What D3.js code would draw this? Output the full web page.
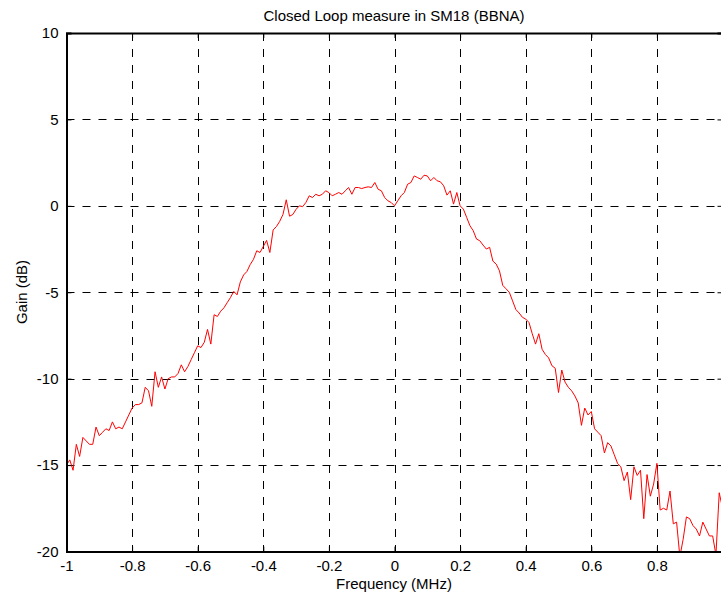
<!DOCTYPE html>
<html>
<head>
<meta charset="utf-8">
<script src="https://cdn.jsdelivr.net/npm/d3@7"></script>
<style>
    body { margin: 0; background: #fff; }
    text { font-family: "Liberation Sans", Arial, Helvetica, sans-serif; }
</style>
</head>
<body>
<div id="chart"></div>
<script>
// Measured gain (dB), one value every 0.01 MHz from -1 to 1
const gain = [
    -15.0, -14.7, -15.3, -13.8, -14.5, -13.4, -13.6, -13.8, -13.8, -12.8,
    -13.3, -13.1, -12.9, -13.0, -12.5, -12.9, -12.8, -12.9, -12.5, -12.1,
    -11.7, -11.5, -11.5, -11.4, -10.5, -10.7, -11.6, -9.6, -10.5, -9.9,
    -10.6, -10.0, -9.9, -9.9, -9.7, -9.2, -9.6, -9.3, -8.9, -8.5,
    -8.1, -8.2, -7.9, -7.15, -8.0, -6.3, -6.4, -6.1, -5.9, -5.6,
    -5.3, -4.95, -5.15, -4.4, -4.0, -3.8, -3.4, -3.1, -2.6, -2.7,
    -2.35, -2.0, -2.7, -1.4, -1.2, -0.9, -0.5, 0.35, -0.6, -0.5,
    -0.2, 0.0, -0.05, 0.2, 0.58, 0.48, 0.67, 0.58, 0.67, 0.87,
    0.77, 0.58, 0.67, 0.77, 0.67, 0.87, 1.06, 0.67, 1.06, 1.06,
    1.0, 1.06, 1.1, 1.06, 1.35, 0.96, 0.87, 0.48, 0.29, 0.19,
    0.0, 0.29, 0.58, 0.77, 1.25, 1.35, 1.73, 1.64, 1.54, 1.77,
    1.73, 1.45, 1.64, 1.45, 1.39, 1.16, 0.62, 0.87, 0.1, 0.77,
    0.0, -0.19, -0.67, -1.15, -1.44, -1.92, -2.02, -2.27, -2.5, -2.4,
    -3.2, -3.37, -3.76, -4.6, -4.8, -5.0, -5.5, -6.0, -6.2, -6.45,
    -6.55, -6.75, -7.4, -8.0, -7.4, -8.3, -8.6, -8.8, -9.25, -9.4,
    -10.8, -9.5, -10.2, -10.5, -10.7, -11.0, -11.4, -12.7, -11.7, -12.1,
    -11.9, -12.9, -13.1, -13.3, -14.3, -13.7, -13.9, -14.4, -14.9, -15.1,
    -15.9, -15.4, -17.0, -15.1, -15.6, -15.3, -18.1, -15.55, -16.8, -16.1,
    -14.9, -17.6, -17.5, -17.6, -16.5, -18.4, -18.3, -20.3, -19.3, -18.0,
    -18.1, -18.5, -18.7, -19.1, -18.3, -18.7, -19.1, -19.1, -20.2, -16.6,
    -17.5
];
const freqStart = -1;
const freqStep = 0.01;

const xTicks = [-1, -0.8, -0.6, -0.4, -0.2, 0, 0.2, 0.4, 0.6, 0.8, 1];
const yTicks = [-20, -15, -10, -5, 0, 5, 10];

const data = gain.map((g, i) => ({ f: freqStart + i * freqStep, g: g }));

const width = 721;
const height = 594;
const margin = { top: 33, right: -1.5, bottom: 42.5, left: 66.5 };
const innerWidth = width - margin.left - margin.right;
const innerHeight = height - margin.top - margin.bottom;

const svg = d3.select('#chart')
    .append('svg')
    .attr('width', width)
    .attr('height', height);

const xScale = d3.scaleLinear()
    .domain([-1, 1])
    .range([margin.left, margin.left + innerWidth]);

const yScale = d3.scaleLinear()
    .domain([-20, 10])
    .range([margin.top + innerHeight, margin.top]);

// clip for the curve
svg.append('clipPath')
    .attr('id', 'plot-clip')
    .append('rect')
    .attr('x', margin.left)
    .attr('y', margin.top)
    .attr('width', innerWidth)
    .attr('height', innerHeight);

// dashed grid
const grid = svg.append('g').attr('class', 'grid');
grid.selectAll('line.vgrid')
    .data(xTicks)
    .enter()
    .append('line')
    .attr('x1', d => Math.round(xScale(d)) + 0.5)
    .attr('x2', d => Math.round(xScale(d)) + 0.5)
    .attr('y1', margin.top)
    .attr('y2', margin.top + innerHeight)
    .attr('stroke', '#000')
    .attr('stroke-width', 1)
    .attr('stroke-dasharray', '8,8');

grid.selectAll('line.hgrid')
    .data(yTicks)
    .enter()
    .append('line')
    .attr('x1', margin.left)
    .attr('x2', margin.left + innerWidth)
    .attr('y1', d => Math.round(yScale(d)) + 0.5)
    .attr('y2', d => Math.round(yScale(d)) + 0.5)
    .attr('stroke', '#000')
    .attr('stroke-width', 1)
    .attr('stroke-dasharray', '8,8');

// measured curve
const line = d3.line()
    .x(d => xScale(d.f))
    .y(d => yScale(d.g));

svg.append('path')
    .datum(data)
    .attr('clip-path', 'url(#plot-clip)')
    .attr('fill', 'none')
    .attr('stroke', '#ff0000')
    .attr('stroke-width', 1)
    .attr('d', line);

// axes with inward ticks; the label at x = 1 falls outside the window
const xFmt = d => (d === 1 ? '' : String(d));
const yFmt = d => String(d);

const xAxis = svg.append('g')
    .attr('transform', `translate(0, ${margin.top + innerHeight})`)
    .call(d3.axisBottom(xScale).tickValues(xTicks).tickFormat(xFmt).tickSize(-5).tickPadding(9));

const xTop = svg.append('g')
    .attr('transform', `translate(0, ${margin.top})`)
    .call(d3.axisTop(xScale).tickValues(xTicks).tickSize(-5));

const yAxis = svg.append('g')
    .attr('transform', `translate(${margin.left}, 0)`)
    .call(d3.axisLeft(yScale).tickValues(yTicks).tickFormat(yFmt).tickSize(-5).tickPadding(8));

const yRight = svg.append('g')
    .attr('transform', `translate(${margin.left + innerWidth}, 0)`)
    .call(d3.axisRight(yScale).tickValues(yTicks).tickSize(-5));

// top and right axes carry ticks only
xTop.selectAll('.tick text').remove();
yRight.selectAll('.tick text').remove();
xAxis.selectAll('.tick text').filter(d => d === 1).remove();

[xAxis, xTop, yAxis, yRight].forEach(a => {
    a.select('.domain').attr('stroke', '#000').attr('stroke-width', 2);
    a.selectAll('.tick line').attr('stroke', '#000');
    a.selectAll('.tick text')
        .attr('fill', '#000')
        .style('font-size', '15px');
});

// title and axis labels
svg.append('text')
    .attr('x', 394)
    .attr('y', 21)
    .style('text-anchor', 'middle')
    .style('font-size', '15px')
    .text('Closed Loop measure in SM18 (BBNA)');

svg.append('text')
    .attr('x', 394)
    .attr('y', 589)
    .style('text-anchor', 'middle')
    .style('font-size', '15px')
    .text('Frequency (MHz)');

svg.append('text')
    .attr('transform', 'rotate(-90)')
    .attr('x', -292)
    .attr('y', 27)
    .style('text-anchor', 'middle')
    .style('font-size', '15px')
    .text('Gain (dB)');
</script>
</body>
</html>
